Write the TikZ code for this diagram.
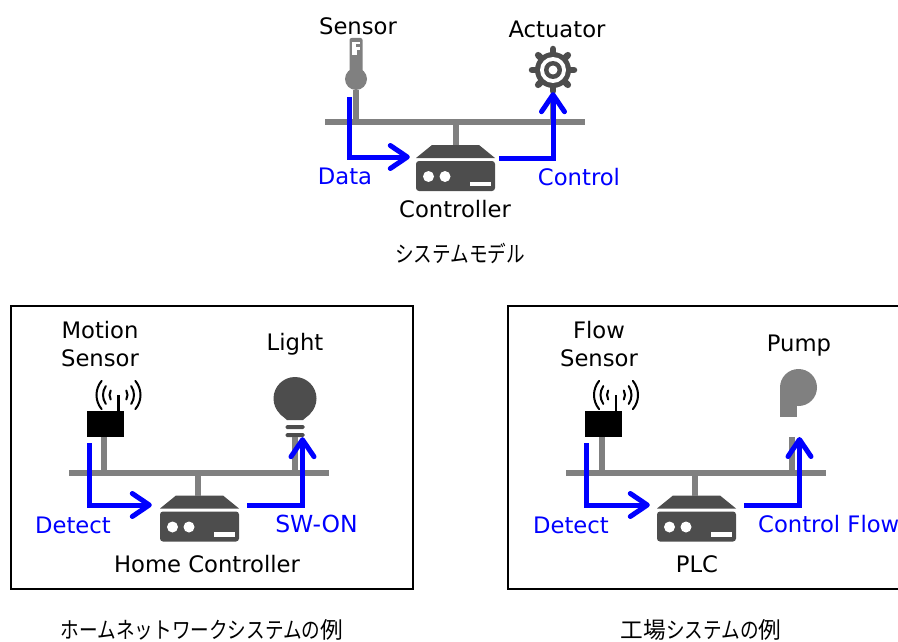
\documentclass[tikz,border=0pt]{standalone}
\usepackage{fontspec}
\setmainfont{DejaVu Sans}
\newfontfamily\jpfont{Noto Sans CJK JP}
\usetikzlibrary{arrows.meta}
\definecolor{icondark}{HTML}{4D4D4D}
\definecolor{busgray}{HTML}{808080}
\newcommand{\kana}[1]{\scalebox{.82}[1]{#1}}

\begin{document}
\begin{tikzpicture}[x=1pt,y=-1pt]
	\path[use as bounding box,clip] (0,0) rectangle (898,642);

	\tikzstyle{lbl}=[inner sep=0pt,font=\fontsize{22.7}{28}\selectfont,align=center]
	\tikzstyle{flowlbl}=[lbl,text=blue]
	\tikzstyle{capt}=[inner sep=0pt,font=\jpfont\fontsize{22.7}{26}\selectfont]
	\tikzstyle{panel}=[draw=black,line width=2pt]
	\tikzstyle{bus}=[rectangle,fill=busgray,inner sep=0pt,minimum width=260pt,
	minimum height=6pt]
	\tikzstyle{stem}=[draw=busgray,line width=6pt]
	\tikzstyle{flow}=[draw=blue,line width=5pt,-{Straight Barb[length=17pt,width=23pt,
	line width=5pt,round]},shorten >=1pt]

	\tikzstyle{controller}=[rectangle,inner sep=0pt,minimum width=79pt,minimum height=46pt,
	path picture={\begin{scope}[shift={(path picture bounding box.center)}]
		\fill[icondark] (-23.5,-23) -- (23.5,-23) -- (39.5,-10) -- (-39.5,-10) -- cycle;
		\fill[icondark,rounded corners=3pt] (-39.5,-7) rectangle (39.5,23);
		\fill[white] (-27,8.5) circle (5.5) (-10.5,8.5) circle (5.5);
		\fill[white] (14,13.5) rectangle (35.5,18);
	\end{scope}}]
	\tikzstyle{thermo}=[rectangle,inner sep=0pt,minimum width=24pt,minimum height=52pt,
	path picture={\begin{scope}[shift={(path picture bounding box.center)}]
		\fill[busgray,rounded corners=2pt] (-6.5,-26) rectangle (6.5,20);
		\fill[busgray] (0,15) circle (11);
		\fill[white] (-4,-22) rectangle (4,-9);
		\fill[busgray] (0,-20) rectangle (4,-17);
		\fill[busgray] (1,-14) rectangle (4,-9);
	\end{scope}}]
	\tikzstyle{gear}=[rectangle,inner sep=0pt,minimum width=50pt,minimum height=50pt,
	path picture={\begin{scope}[shift={(path picture bounding box.center)}]
		\foreach \ang in {0,45,...,315}
			\draw[icondark,line width=6.5pt,line cap=round] (0,0) -- (\ang:21);
		\fill[icondark] (0,0) circle (18);
		\fill[white] (0,0) circle (13);
		\fill[icondark] (0,0) circle (9);
		\fill[white] (0,0) circle (4.5);
	\end{scope}}]
	\tikzstyle{bulb}=[rectangle,inner sep=0pt,minimum width=44pt,minimum height=60pt,
	path picture={\begin{scope}[shift={(path picture bounding box.center)}]
		\fill[icondark] (0,-8.5) circle (21.5);
		\fill[icondark] (-15,7) -- (15,7) -- (8,13) -- (-8,13) -- cycle;
		\fill[icondark,rounded corners=1.5pt] (-9.5,18) rectangle (9.5,22);
		\fill[icondark,rounded corners=1.5pt] (-9.5,26) rectangle (9.5,30);
	\end{scope}}]
	\tikzstyle{pump}=[rectangle,inner sep=0pt,minimum width=38pt,minimum height=48pt,
	path picture={\begin{scope}[shift={(path picture bounding box.center)}]
		\fill[busgray] (0,-5.5) circle (18.5);
		\fill[busgray] (-19,-5.5) rectangle (-2,24);
	\end{scope}}]
	\tikzstyle{radiobox}=[rectangle,fill=black,inner sep=0pt,minimum width=37pt,
	minimum height=26pt]
	\tikzstyle{waves}=[rectangle,inner sep=0pt,minimum width=52pt,minimum height=34pt,
	path picture={\begin{scope}[shift={(path picture bounding box.center)}]
		\draw[black,line width=2.5pt] (0,0) -- (0,17);
		\draw[black,line width=2pt,line cap=round]
			(140:22) arc[start angle=140,end angle=220,radius=22]
			(40:22) arc[start angle=40,end angle=-40,radius=22]
			(145:15.5) arc[start angle=145,end angle=215,radius=15.5]
			(35:15.5) arc[start angle=35,end angle=-35,radius=15.5]
			(150:9) arc[start angle=150,end angle=210,radius=9]
			(30:9) arc[start angle=30,end angle=-30,radius=9];
	\end{scope}}]

	% system model
	\node[lbl] (sensortxt) at (358,26) {Sensor};
	\node[lbl] (actuatortxt) at (557,29) {Actuator};
	\node[thermo] (t1) at (356,64) {};
	\node[gear] (g1) at (553,70) {};
	\node[bus] (b1) at (455,122) {};
	\node[controller] (c1) at (455.5,168) {};
	\node[flowlbl] (datatxt) at (345,176) {Data};
	\node[flowlbl] (controltxt) at (579,177) {Control};
	\node[lbl] (controllertxt) at (455,209) {Controller};
	\node[capt] (cap1) at (460,253) {\kana{システムモデル}};
	\coordinate (d1) at (349,97);

	\draw[stem] (t1.south) -- (t1.south |- b1.center);
	\draw[stem] (g1.south) -- (g1.south |- b1.center);
	\draw[stem] (c1.north) -- (c1.north |- b1.center);
	\draw[flow] (d1) |- ([xshift=-5pt,yshift=11pt]c1.west);
	\draw[flow] ([xshift=4pt,yshift=10pt]c1.east) -| ([yshift=4pt]g1.south);

	% home network
	\node[panel,rectangle,inner sep=0pt,minimum width=402pt,minimum height=283pt] (p2) at (212,447.5) {};
	\node[lbl] (motiontxt) at (100,344) {Motion\\Sensor};
	\node[lbl] (lighttxt) at (295,344) {Light};
	\node[waves] (w2) at (118.5,395) {};
	\node[radiobox] (s2) at (105.5,424) {};
	\node[bulb] (l2) at (295,407) {};
	\node[bus] (b2) at (199,473) {};
	\node[controller] (c2) at (199.5,518.5) {};
	\node[flowlbl] (detecttxt2) at (73,525) {Detect};
	\node[flowlbl] (swontxt) at (316.5,524) {\fontsize{23.5}{28}\selectfont SW-ON};
	\node[lbl] (hometxt) at (207,564) {Home Controller};
	\node[capt] (cap2) at (202,630) {\kana{ホームネットワークシステムの}例};
	\coordinate (d2) at (89,443);

	\draw[stem] ([xshift=-1.5pt]s2.south) -- ([xshift=-1.5pt]s2.south |- b2.center);
	\draw[stem] (l2.south) -- (l2.south |- b2.center);
	\draw[stem] (198,496) -- (198,473);
	\draw[flow] (d2) |- ([xshift=-7pt,yshift=13.5pt]c2.west);
	\draw[flow] ([xshift=8pt,yshift=13.5pt]c2.east) -| ([xshift=7.5pt,yshift=1pt]l2.south);

	% factory
	\node[panel,rectangle,inner sep=0pt,minimum width=402pt,minimum height=283pt] (p3) at (709,447.5) {};
	\node[lbl] (flowtxt) at (599,344) {Flow\\Sensor};
	\node[lbl] (pumptxt) at (799,346) {Pump};
	\node[waves] (w3) at (616,395) {};
	\node[radiobox] (s3) at (603.5,424) {};
	\node[pump] (m3) at (798.5,393) {};
	\node[bus] (b3) at (696,473) {};
	\node[controller] (c3) at (696.5,518.5) {};
	\node[flowlbl] (detecttxt3) at (571,525) {Detect};
	\node[flowlbl,anchor=west] (flowctltxt) at (758,524) {Control Flow};
	\node[lbl] (plctxt) at (697,564) {PLC};
	\node[capt] (cap3) at (701,630) {工場\kana{システムの}例};
	\coordinate (d3) at (586.5,443);
	\coordinate (p3stem) at (792,437);
	\coordinate (p3tip) at (799.5,436);

	\draw[stem] ([xshift=-1.5pt]s3.south) -- ([xshift=-1.5pt]s3.south |- b3.center);
	\draw[stem] (p3stem) -- (p3stem |- b3.center);
	\draw[stem] (695,496) -- (695,473);
	\draw[flow] (d3) |- ([xshift=-6pt,yshift=13.5pt]c3.west);
	\draw[flow] ([xshift=8pt,yshift=13.5pt]c3.east) -| (p3tip);
\end{tikzpicture}
\end{document}
